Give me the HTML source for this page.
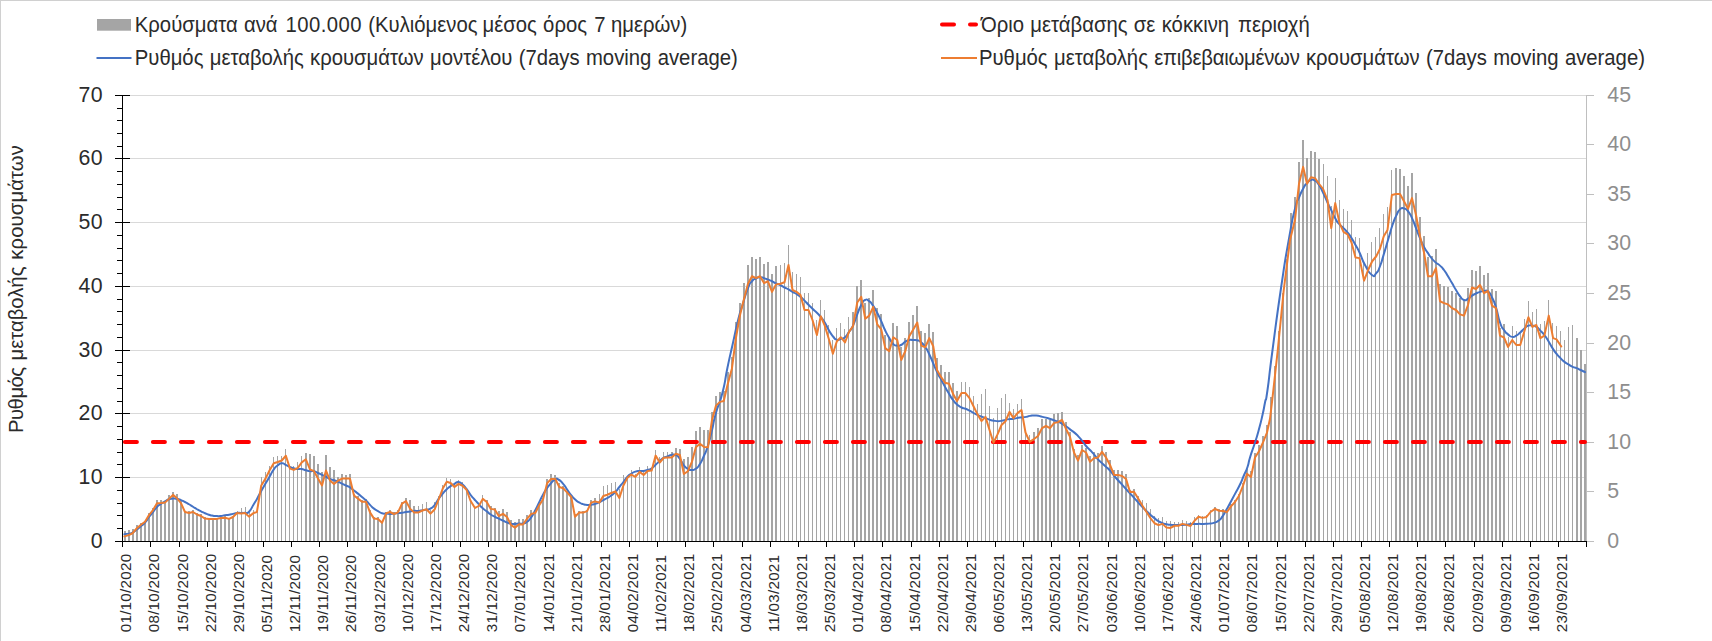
<!DOCTYPE html>
<html lang="el"><head><meta charset="utf-8"><title>Ρυθμός μεταβολής κρουσμάτων</title>
<style>
html,body{margin:0;padding:0;background:#fff;}
body{width:1712px;height:641px;overflow:hidden;}
svg{display:block;}
text{font-family:"Liberation Sans",sans-serif;}
.lg{font-size:20.3px;fill:#2b2b2b;letter-spacing:0px;word-spacing:0.7px;}
.yl{font-size:21.3px;fill:#2b2b2b;text-anchor:end;letter-spacing:0.3px;}
.yr{font-size:21.3px;fill:#8e8e8e;text-anchor:start;letter-spacing:0.3px;}
.xl{font-size:15.2px;fill:#2b2b2b;letter-spacing:0.27px;}
.yt{font-size:20.3px;fill:#2b2b2b;letter-spacing:0px;word-spacing:0.7px;}
</style></head><body>
<svg width="1712" height="641" viewBox="0 0 1712 641">
<rect x="0" y="0" width="1712" height="641" fill="#ffffff"/>
<path d="M0 0.5H1712M0.5 0V641" stroke="#d0d0d0" stroke-width="1" fill="none"/>
<path d="M130 477.5H1586M130 413.5H1586M130 350.5H1586M130 286.5H1586M130 222.5H1586M130 158.5H1586M130 95.5H1586" stroke="#d9d9d9" stroke-width="1" fill="none" shape-rendering="crispEdges"/>
<path d="M124 531H126V541H124ZM128 530H130V541H128ZM132 529H134V541H132ZM136 525H138V541H136ZM140 523H142V541H140ZM144 521H146V541H144ZM148 513H150V541H148ZM152 508H154V541H152ZM156 500H158V541H156ZM160 500H162V541H160ZM164 501H166V541H164ZM168 495H170V541H168ZM172 492H174V541H172ZM176 494H178V541H176ZM180 500H182V541H180ZM184 511H186V541H184ZM188 511H190V541H188ZM192 510H194V541H192ZM196 513H198V541H196ZM200 514H202V541H200ZM204 517H206V541H204ZM208 518H210V541H208ZM212 518H214V541H212ZM216 518H218V541H216ZM220 517H222V541H220ZM224 516H226V541H224ZM228 518H230V541H228ZM232 516H234V541H232ZM237 511H238V541H237ZM241 508H242V541H241ZM245 507H246V541H245ZM249 512H250V541H249ZM253 510H254V541H253ZM257 509H258V541H257ZM261 477H262V541H261ZM265 472H266V541H265ZM269 466H270V541H269ZM273 457H274V541H273ZM277 456H278V541H277ZM281 456H282V541H281ZM285 449H286V541H285ZM289 466H290V541H289ZM293 466H294V541H293ZM297 462H298V541H297ZM301 456H302V541H301ZM305 453H307V541H305ZM309 454H311V541H309ZM313 456H315V541H313ZM317 464H319V541H317ZM321 472H323V541H321ZM325 455H327V541H325ZM329 467H331V541H329ZM333 470H335V541H333ZM337 477H339V541H337ZM341 474H343V541H341ZM345 475H347V541H345ZM349 474H351V541H349ZM353 494H355V541H353ZM357 496H359V541H357ZM361 500H363V541H361ZM365 499H367V541H365ZM369 510H371V541H369ZM373 517H375V541H373ZM377 517H379V541H377ZM381 522H383V541H381ZM385 512H387V541H385ZM389 510H391V541H389ZM393 512H395V541H393ZM397 510H399V541H397ZM401 502H403V541H401ZM405 498H407V541H405ZM409 500H411V541H409ZM413 506H415V541H413ZM418 506H419V541H418ZM422 504H423V541H422ZM426 502H427V541H426ZM430 510H431V541H430ZM434 502H435V541H434ZM438 496H439V541H438ZM442 485H443V541H442ZM446 478H447V541H446ZM450 479H451V541H450ZM454 483H455V541H454ZM458 480H459V541H458ZM462 482H463V541H462ZM466 489H467V541H466ZM470 500H471V541H470ZM474 506H475V541H474ZM478 504H479V541H478ZM482 495H483V541H482ZM486 500H488V541H486ZM490 506H492V541H490ZM494 508H496V541H494ZM498 511H500V541H498ZM502 509H504V541H502ZM506 512H508V541H506ZM510 520H512V541H510ZM514 522H516V541H514ZM518 519H520V541H518ZM522 519H524V541H522ZM526 515H528V541H526ZM530 510H532V541H530ZM534 510H536V541H534ZM538 503H540V541H538ZM542 498H544V541H542ZM546 479H548V541H546ZM550 474H552V541H550ZM554 475H556V541H554ZM558 483H560V541H558ZM562 486H564V541H562ZM566 491H568V541H566ZM570 495H572V541H570ZM574 514H576V541H574ZM578 511H580V541H578ZM582 511H584V541H582ZM586 510H588V541H586ZM590 500H592V541H590ZM594 498H596V541H594ZM599 494H600V541H599ZM603 486H604V541H603ZM607 485H608V541H607ZM611 483H612V541H611ZM615 482H616V541H615ZM619 489H620V541H619ZM623 475H624V541H623ZM627 477H628V541H627ZM631 470H632V541H631ZM635 474H636V541H635ZM639 467H640V541H639ZM643 471H644V541H643ZM647 466H648V541H647ZM651 468H652V541H651ZM655 450H656V541H655ZM659 457H660V541H659ZM663 452H664V541H663ZM667 452H668V541H667ZM671 452H673V541H671ZM675 448H677V541H675ZM679 449H681V541H679ZM683 459H685V541H683ZM687 457H689V541H687ZM691 447H693V541H691ZM695 431H697V541H695ZM699 427H701V541H699ZM703 430H705V541H703ZM707 430H709V541H707ZM711 412H713V541H711ZM715 396H717V541H715ZM719 392H721V541H719ZM723 391H725V541H723ZM727 372H729V541H727ZM731 357H733V541H731ZM735 322H737V541H735ZM739 303H741V541H739ZM743 283H745V541H743ZM747 265H749V541H747ZM751 257H753V541H751ZM755 259H757V541H755ZM759 257H761V541H759ZM763 264H765V541H763ZM767 262H769V541H767ZM771 274H773V541H771ZM775 266H777V541H775ZM780 265H781V541H780ZM784 263H785V541H784ZM788 245H789V541H788ZM792 272H793V541H792ZM796 274H797V541H796ZM800 277H801V541H800ZM804 293H805V541H804ZM808 293H809V541H808ZM812 303H813V541H812ZM816 320H817V541H816ZM820 300H821V541H820ZM824 310H825V541H824ZM828 325H829V541H828ZM832 340H833V541H832ZM836 328H837V541H836ZM840 323H841V541H840ZM844 329H845V541H844ZM848 317H849V541H848ZM852 312H854V541H852ZM856 286H858V541H856ZM860 280H862V541H860ZM864 303H866V541H864ZM868 298H870V541H868ZM872 290H874V541H872ZM876 308H878V541H876ZM880 314H882V541H880ZM884 335H886V541H884ZM888 338H890V541H888ZM892 323H894V541H892ZM896 326H898V541H896ZM900 347H902V541H900ZM904 338H906V541H904ZM908 322H910V541H908ZM912 315H914V541H912ZM916 306H918V541H916ZM920 331H922V541H920ZM924 333H926V541H924ZM928 324H930V541H928ZM932 332H934V541H932ZM936 358H938V541H936ZM940 365H942V541H940ZM944 372H946V541H944ZM948 372H950V541H948ZM952 383H954V541H952ZM956 391H958V541H956ZM961 382H962V541H961ZM965 382H966V541H965ZM969 387H970V541H969ZM973 396H974V541H973ZM977 404H978V541H977ZM981 394H982V541H981ZM985 389H986V541H985ZM989 406H990V541H989ZM993 418H994V541H993ZM997 408H998V541H997ZM1001 398H1002V541H1001ZM1005 394H1006V541H1005ZM1009 403H1010V541H1009ZM1013 409H1014V541H1013ZM1017 404H1018V541H1017ZM1021 399H1022V541H1021ZM1025 434H1026V541H1025ZM1029 435H1030V541H1029ZM1033 432H1035V541H1033ZM1037 428H1039V541H1037ZM1041 419H1043V541H1041ZM1045 419H1047V541H1045ZM1049 420H1051V541H1049ZM1053 414H1055V541H1053ZM1057 413H1059V541H1057ZM1061 412H1063V541H1061ZM1065 422H1067V541H1065ZM1069 432H1071V541H1069ZM1073 449H1075V541H1073ZM1077 455H1079V541H1077ZM1081 445H1083V541H1081ZM1085 448H1087V541H1085ZM1089 456H1091V541H1089ZM1093 452H1095V541H1093ZM1097 453H1099V541H1097ZM1101 446H1103V541H1101ZM1105 452H1107V541H1105ZM1109 460H1111V541H1109ZM1113 470H1115V541H1113ZM1117 470H1119V541H1117ZM1121 471H1123V541H1121ZM1125 474H1127V541H1125ZM1129 490H1131V541H1129ZM1133 489H1135V541H1133ZM1137 496H1139V541H1137ZM1142 500H1143V541H1142ZM1146 503H1147V541H1146ZM1150 509H1151V541H1150ZM1154 516H1155V541H1154ZM1158 518H1159V541H1158ZM1162 517H1163V541H1162ZM1166 521H1167V541H1166ZM1170 521H1171V541H1170ZM1174 522H1175V541H1174ZM1178 522H1179V541H1178ZM1182 520H1183V541H1182ZM1186 521H1187V541H1186ZM1190 522H1191V541H1190ZM1194 517H1195V541H1194ZM1198 515H1199V541H1198ZM1202 516H1203V541H1202ZM1206 515H1207V541H1206ZM1210 510H1211V541H1210ZM1214 507H1216V541H1214ZM1218 509H1220V541H1218ZM1222 509H1224V541H1222ZM1226 510H1228V541H1226ZM1230 504H1232V541H1230ZM1234 500H1236V541H1234ZM1238 494H1240V541H1238ZM1242 483H1244V541H1242ZM1246 469H1248V541H1246ZM1250 471H1252V541H1250ZM1254 453H1256V541H1254ZM1258 445H1260V541H1258ZM1262 436H1264V541H1262ZM1266 425H1268V541H1266ZM1270 397H1272V541H1270ZM1274 366H1276V541H1274ZM1278 331H1280V541H1278ZM1282 293H1284V541H1282ZM1286 259H1288V541H1286ZM1290 213H1292V541H1290ZM1294 197H1296V541H1294ZM1298 162H1300V541H1298ZM1302 140H1304V541H1302ZM1306 158H1308V541H1306ZM1310 151H1312V541H1310ZM1314 152H1316V541H1314ZM1318 159H1320V541H1318ZM1323 164H1324V541H1323ZM1327 176H1328V541H1327ZM1331 206H1332V541H1331ZM1335 178H1336V541H1335ZM1339 200H1340V541H1339ZM1343 209H1344V541H1343ZM1347 211H1348V541H1347ZM1351 220H1352V541H1351ZM1355 237H1356V541H1355ZM1359 238H1360V541H1359ZM1363 262H1364V541H1363ZM1367 253H1368V541H1367ZM1371 242H1372V541H1371ZM1375 237H1376V541H1375ZM1379 228H1380V541H1379ZM1383 214H1384V541H1383ZM1387 207H1388V541H1387ZM1391 170H1392V541H1391ZM1395 168H1397V541H1395ZM1399 169H1401V541H1399ZM1403 176H1405V541H1403ZM1407 186H1409V541H1407ZM1411 173H1413V541H1411ZM1415 193H1417V541H1415ZM1419 217H1421V541H1419ZM1423 236H1425V541H1423ZM1427 257H1429V541H1427ZM1431 256H1433V541H1431ZM1435 249H1437V541H1435ZM1439 284H1441V541H1439ZM1443 286H1445V541H1443ZM1447 287H1449V541H1447ZM1451 291H1453V541H1451ZM1455 293H1457V541H1455ZM1459 298H1461V541H1459ZM1463 300H1465V541H1463ZM1467 288H1469V541H1467ZM1471 270H1473V541H1471ZM1475 271H1477V541H1475ZM1479 266H1481V541H1479ZM1483 275H1485V541H1483ZM1487 273H1489V541H1487ZM1491 289H1493V541H1491ZM1495 291H1497V541H1495ZM1499 328H1501V541H1499ZM1503 324H1505V541H1503ZM1508 337H1509V541H1508ZM1512 326H1513V541H1512ZM1516 331H1517V541H1516ZM1520 332H1521V541H1520ZM1524 319H1525V541H1524ZM1528 301H1529V541H1528ZM1532 312H1533V541H1532ZM1536 309H1537V541H1536ZM1540 324H1541V541H1540ZM1544 321H1545V541H1544ZM1548 300H1549V541H1548ZM1552 323H1553V541H1552ZM1556 326H1557V541H1556ZM1560 331H1561V541H1560ZM1564 340H1565V541H1564ZM1568 327H1569V541H1568ZM1572 325H1573V541H1572ZM1576 338H1578V541H1576ZM1580 350H1582V541H1580ZM1584 364H1586V541H1584Z" fill="#a5a5a5" stroke="none" shape-rendering="crispEdges"/>
<path d="M1586.5 95V542M1587 541.5H1594M1587 491.5H1594M1587 442.5H1594M1587 392.5H1594M1587 343.5H1594M1587 293.5H1594M1587 243.5H1594M1587 194.5H1594M1587 144.5H1594M1587 95.5H1594" stroke="#bfbfbf" stroke-width="1" fill="none" shape-rendering="crispEdges"/>
<path d="M124.9 442H1585" stroke="#ff0000" stroke-width="4" stroke-linecap="round" stroke-dasharray="12 16" fill="none"/>
<path d="M124.38 534.25C125.83 534.04 126.04 534.17 128.75 533.62C131.46 533.08 129.79 534 132.5 532.62C135.21 531.25 133.96 531.79 136.88 529.5C139.79 527.21 138.54 528.04 141.25 525.75C143.96 523.46 142.42 525.54 145 522.62C147.58 519.71 146.33 520.54 149 517C151.67 513.46 150.33 515.33 153 512C155.67 508.67 154.33 509.71 157 507C159.67 504.29 158.33 505.75 161 503.88C163.67 502 162.33 502.92 165 501.38C167.67 499.83 166.33 500.17 169 499.25C171.67 498.33 170.33 498.75 173 498.62C175.67 498.5 174.33 498.38 177 498.88C179.67 499.38 178.33 499.08 181 500.12C183.67 501.17 182.33 500.62 185 502C187.67 503.38 186.33 502.67 189 504.25C191.67 505.83 190.33 505.08 193 506.75C195.67 508.42 194.33 507.71 197 509.25C199.67 510.79 198.33 510.04 201 511.38C203.67 512.71 202.33 512.12 205 513.25C207.67 514.38 206.33 513.92 209 514.75C211.67 515.58 210.33 515.29 213 515.75C215.67 516.21 214.33 516.04 217 516.12C219.67 516.21 218.33 516.33 221 516C223.67 515.67 222.33 515.54 225 515.12C227.67 514.71 226.33 515.17 229 514.75C231.67 514.33 230.33 514.46 233 513.88C235.67 513.29 234.33 513.33 237 513C239.67 512.67 238.33 512.96 241 512.88C243.67 512.79 242.42 513.04 245 512.75C247.58 512.46 245.83 514.83 248.75 512C251.67 509.17 250.83 508.92 253.75 504.25C256.67 499.58 254.92 502.58 257.5 498C260.08 493.42 258.83 495.29 261.5 490.5C264.17 485.71 262.83 488.21 265.5 483.62C268.17 479.04 266.83 481.33 269.5 476.75C272.17 472.17 270.83 473.62 273.5 469.88C276.17 466.12 274.71 467.71 277.5 465.5C280.29 463.29 279.17 463.46 281.88 463.25C284.58 463.04 282.92 463.62 285.62 464.88C288.33 466.12 287.29 465.88 290 467C292.71 468.12 291.25 467.58 293.75 468.25C296.25 468.92 294.92 468.75 297.5 469C300.08 469.25 298.71 468.58 301.5 469C304.29 469.42 303.04 469.54 305.88 470.25C308.71 470.96 307.29 470.83 310 471.12C312.71 471.42 311.33 470.5 314 471.12C316.67 471.75 315.33 471.75 318 473C320.67 474.25 319.33 473.62 322 474.88C324.67 476.12 323.33 475.38 326 476.75C328.67 478.12 327.33 477.83 330 479C332.67 480.17 331.33 479.33 334 480.25C336.67 481.17 335.33 480.62 338 481.75C340.67 482.88 339.33 482.38 342 483.62C344.67 484.88 343.33 484.25 346 485.5C348.67 486.75 347.33 485.71 350 487.38C352.67 489.04 351.33 488.42 354 490.5C356.67 492.58 355.33 491.46 358 493.62C360.67 495.79 359.33 494.71 362 497C364.67 499.29 363.33 497.88 366 500.5C368.67 503.12 367.33 502.17 370 504.88C372.67 507.58 371.33 506.54 374 508.62C376.67 510.71 375.33 509.58 378 511.12C380.67 512.67 379.33 512.42 382 513.25C384.67 514.08 383.33 513.42 386 513.62C388.67 513.83 387.33 513.88 390 513.88C392.67 513.88 391.33 513.92 394 513.62C396.67 513.33 395.33 513.29 398 513C400.67 512.71 399.33 513.08 402 512.75C404.67 512.42 403.33 512.42 406 512C408.67 511.58 407.33 511.88 410 511.5C412.67 511.12 411.17 511.08 414 510.88C416.83 510.67 415.67 511.12 418.5 510.88C421.33 510.62 419.83 510.54 422.5 510.12C425.17 509.71 423.83 510.12 426.5 509.62C429.17 509.12 427.75 510.21 430.5 508.62C433.25 507.04 432 508.21 434.75 504.88C437.5 501.54 436.08 502.38 438.75 498.62C441.42 494.88 440.08 496.75 442.75 493.62C445.42 490.5 444.12 491.75 446.75 489.25C449.38 486.75 448.04 487.92 450.62 486.12C453.21 484.33 451.88 485.25 454.5 483.88C457.12 482.5 455.83 481.79 458.5 482C461.17 482.21 459.83 482.21 462.5 484.5C465.17 486.79 463.83 485.46 466.5 488.88C469.17 492.29 467.83 491.21 470.5 494.75C473.17 498.29 471.83 496.46 474.5 499.5C477.17 502.54 475.83 501.04 478.5 503.88C481.17 506.71 479.75 505.5 482.5 508C485.25 510.5 484 509.21 486.75 511.38C489.5 513.54 488.08 512.71 490.75 514.5C493.42 516.29 492.08 515.38 494.75 516.75C497.42 518.12 496.08 517.38 498.75 518.62C501.42 519.88 500.08 519.25 502.75 520.5C505.42 521.75 504.04 521.33 506.75 522.38C509.46 523.42 508.17 523.12 510.88 523.62C513.58 524.12 512.21 523.88 514.88 523.88C517.54 523.88 516.21 523.75 518.88 523.62C521.54 523.5 520.17 524.12 522.88 523.5C525.58 522.88 524.29 523.71 527 521.75C529.71 519.79 528.33 521.29 531 517.62C533.67 513.96 532.33 515.75 535 510.75C537.67 505.75 536.33 507.96 539 502.62C541.67 497.29 540.33 499.54 543 494.75C545.67 489.96 544.33 492.08 547 488.25C549.67 484.42 548.33 486.17 551 483.25C553.67 480.33 552.54 480.75 555 479.5C557.46 478.25 555.67 478.04 558.38 479.5C561.08 480.96 560.21 480.54 563.12 483.88C566.04 487.21 564.46 485.75 567.12 489.5C569.79 493.25 568.46 491.79 571.12 495.12C573.79 498.46 572.46 497.08 575.12 499.5C577.79 501.92 576.46 500.83 579.12 502.38C581.79 503.92 580.46 503.29 583.12 504.12C585.79 504.96 584.46 504.67 587.12 504.88C589.79 505.08 588.46 505.08 591.12 504.75C593.79 504.42 592.42 504.71 595.12 503.88C597.83 503.04 596.54 503.5 599.25 502.25C601.96 501 600.58 501.54 603.25 500.12C605.92 498.71 604.58 499.54 607.25 498C609.92 496.46 608.54 497.5 611.25 495.5C613.96 493.5 612.67 494.83 615.38 492C618.08 489.17 616.71 490.33 619.38 487C622.04 483.67 620.75 485.38 623.38 482C626 478.62 624.62 479.62 627.25 476.88C629.88 474.12 628.54 475.5 631.25 473.75C633.96 472 632.67 472.54 635.38 471.62C638.08 470.71 636.71 471.21 639.38 471C642.04 470.79 640.71 471.33 643.38 471C646.04 470.67 644.71 470.83 647.38 470C650.04 469.17 648.71 470.17 651.38 468.5C654.04 466.83 652.67 467.42 655.38 465C658.08 462.58 656.79 463.67 659.5 461.25C662.21 458.83 660.83 459.33 663.5 457.75C666.17 456.17 664.83 457.42 667.5 456.5C670.17 455.58 668.79 455.5 671.5 455C674.21 454.5 672.92 453.83 675.62 455C678.33 456.17 676.96 455.17 679.62 458.5C682.29 461.83 680.96 461.58 683.62 465C686.29 468.42 684.96 467.08 687.62 468.75C690.29 470.42 688.96 470 691.62 470C694.29 470 692.92 470.62 695.62 468.75C698.33 466.88 697.04 468.54 699.75 464.38C702.46 460.21 701.08 462.29 703.75 456.25C706.42 450.21 705.08 454.58 707.75 446.25C710.42 437.92 709.08 442.08 711.75 431.25C714.42 420.42 712.17 426.67 715.75 413.75C719.33 400.83 718.58 407.92 722.5 392.5C726.42 377.08 724.17 383.33 727.5 367.5C730.83 351.67 728.96 360.83 732.5 345C736.04 329.17 734.79 333.33 738.12 320C741.46 306.67 739.21 315.62 742.5 305C745.79 294.38 744.83 296.04 748 288.12C751.17 280.21 749.33 284.46 752 281.25C754.67 278.04 753.33 279.83 756 278.5C758.67 277.17 757.33 277.38 760 277.25C762.67 277.12 761.33 277.29 764 278.12C766.67 278.96 765.33 278.71 768 279.75C770.67 280.79 769.33 280 772 281.25C774.67 282.5 773.17 282.17 776 283.5C778.83 284.83 777.67 283.92 780.5 285.25C783.33 286.58 781.83 286.12 784.5 287.5C787.17 288.88 785.83 287.92 788.5 289.38C791.17 290.83 789.83 290.33 792.5 291.88C795.17 293.42 793.83 292.33 796.5 294C799.17 295.67 797.83 294.67 800.5 296.88C803.17 299.08 801.83 298 804.5 300.62C807.17 303.25 805.83 302.04 808.5 304.75C811.17 307.46 809.71 306.08 812.5 308.75C815.29 311.42 814.17 310.04 816.88 312.75C819.58 315.46 818 313.62 820.62 316.88C823.25 320.12 822.04 318.12 824.75 322.5C827.46 326.88 826.04 325.42 828.75 330C831.46 334.58 830.17 333 832.88 336.25C835.58 339.5 834.21 338.92 836.88 339.75C839.54 340.58 838.17 339.58 840.88 338.75C843.58 337.92 842.29 339.54 845 337.25C847.71 334.96 846.33 335.75 849 331.88C851.67 328 850.25 331.46 853 325.62C855.75 319.79 854.5 321.25 857.25 314.38C860 307.5 858.67 309.79 861.25 305C863.83 300.21 862.42 301.33 865 300C867.58 298.67 866.33 299.12 869 301C871.67 302.88 870.33 301.79 873 305.62C875.67 309.46 874.33 307.5 877 312.5C879.67 317.5 878.33 314.79 881 320.62C883.67 326.46 882.33 324.38 885 330C887.67 335.62 886.33 332.92 889 337.5C891.67 342.08 890.33 341.04 893 343.75C895.67 346.46 894.33 345.21 897 345.62C899.67 346.04 898.33 346.25 901 345C903.67 343.75 902.33 343.54 905 341.88C907.67 340.21 906.33 340.62 909 340C911.67 339.38 910.33 339.92 913 340C915.67 340.08 914.33 339.5 917 340.25C919.67 341 918.33 340.04 921 342.25C923.67 344.46 922.33 343.04 925 346.88C927.67 350.71 925 345.42 929 353.75C933 362.08 933 363.33 937 371.88C941 380.42 938.33 374.38 941 379.38C943.67 384.38 942.33 382.08 945 386.88C947.67 391.67 946.33 389.38 949 393.75C951.67 398.12 950.33 396.46 953 400C955.67 403.54 954.17 401.88 957 404.38C959.83 406.88 958.67 406.04 961.5 407.5C964.33 408.96 962.83 407.71 965.5 408.75C968.17 409.79 965.92 408.75 969.5 410.62C973.08 412.5 971.92 412.29 976.25 414.38C980.58 416.46 978.33 415.21 982.5 416.88C986.67 418.54 984.58 418.04 988.75 419.38C992.92 420.71 990.83 420.38 995 420.88C999.17 421.38 997.08 421.38 1001.25 420.88C1005.42 420.38 1003.33 420.08 1007.5 419.38C1011.67 418.67 1009.58 419.38 1013.75 418.75C1017.92 418.12 1015.83 418.12 1020 417.5C1024.17 416.88 1022.92 417.42 1026.25 416.88C1029.58 416.33 1026.67 416.29 1030 415.88C1033.33 415.46 1032.08 415.29 1036.25 415.62C1040.42 415.96 1038.33 415.92 1042.5 416.88C1046.67 417.83 1044.58 417.25 1048.75 418.5C1052.92 419.75 1051.25 419.29 1055 420.62C1058.75 421.96 1056.67 420.83 1060 422.5C1063.33 424.17 1061.67 423.33 1065 425.62C1068.33 427.92 1066.67 426.88 1070 429.38C1073.33 431.88 1072.08 430.62 1075 433.12C1077.92 435.62 1076.25 434.17 1078.75 436.88C1081.25 439.58 1080 438.12 1082.5 441.25C1085 444.38 1083.75 443.33 1086.25 446.25C1088.75 449.17 1087.42 447.29 1090 450C1092.58 452.71 1091.33 451.25 1094 454.38C1096.67 457.5 1095.33 456.46 1098 459.38C1100.67 462.29 1099.33 460.62 1102 463.12C1104.67 465.62 1103.33 464.38 1106 466.88C1108.67 469.38 1106.58 466.83 1110 470.62C1113.42 474.42 1112.08 473.42 1116.25 478.25C1120.42 483.08 1118.33 480.54 1122.5 485.12C1126.67 489.71 1124.58 487.42 1128.75 492C1132.92 496.58 1130.83 494.29 1135 498.88C1139.17 503.46 1137.08 501.38 1141.25 505.75C1145.42 510.12 1143.33 508.04 1147.5 512C1151.67 515.96 1149.58 514.29 1153.75 517.62C1157.92 520.96 1155.83 519.83 1160 522C1164.17 524.17 1162.08 523.17 1166.25 524.12C1170.42 525.08 1168.33 524.62 1172.5 524.88C1176.67 525.12 1174.58 524.92 1178.75 524.88C1182.92 524.83 1180.83 525 1185 524.75C1189.17 524.5 1187.08 524.42 1191.25 524.12C1195.42 523.83 1193.33 523.96 1197.5 523.88C1201.67 523.79 1200 523.96 1203.75 523.88C1207.5 523.79 1205.42 523.96 1208.75 523.62C1212.08 523.29 1210.42 523.92 1213.75 522.88C1217.08 521.83 1215.83 522.67 1218.75 520.5C1221.67 518.33 1220 519.83 1222.5 516.38C1225 512.92 1223.75 514.5 1226.25 510.12C1228.75 505.75 1227.08 508.67 1230 503.25C1232.92 497.83 1231.67 500.12 1235 493.88C1238.33 487.62 1237.08 490.54 1240 484.5C1242.92 478.46 1241.25 481.58 1243.75 475.75C1246.25 469.92 1245.42 473.08 1247.5 467C1249.58 460.92 1247.5 465.67 1250 457.5C1252.5 449.33 1252.08 451.67 1255 442.5C1257.92 433.33 1256.25 439.17 1258.75 430C1261.25 420.83 1260.42 424.17 1262.5 415C1264.58 405.83 1263.33 410.83 1265 402.5C1266.67 394.17 1265 407.42 1267.5 390C1270 372.58 1267.92 384.75 1272.5 350.25C1277.08 315.75 1275.83 323.25 1281.25 286.5C1286.67 249.75 1284.17 265.92 1288.75 240C1293.33 214.08 1291.58 222.92 1295 208.75C1298.42 194.58 1296.08 204.58 1299 197.5C1301.92 190.42 1301.08 192.29 1303.75 187.5C1306.42 182.71 1304.58 185.62 1307 183.12C1309.42 180.62 1308.33 180.83 1311 180C1313.67 179.17 1312.33 178.96 1315 180.62C1317.67 182.29 1316.33 181.04 1319 185C1321.67 188.96 1320.17 186.67 1323 192.5C1325.83 198.33 1325.17 197.5 1327.5 202.5C1329.83 207.5 1327.33 202.08 1330 207.5C1332.67 212.92 1332.33 213.12 1335.5 218.75C1338.67 224.38 1336.83 221.25 1339.5 224.38C1342.17 227.5 1340.83 225.42 1343.5 228.12C1346.17 230.83 1344.83 229.17 1347.5 232.5C1350.17 235.83 1348.83 233.96 1351.5 238.12C1354.17 242.29 1352.83 240.21 1355.5 245C1358.17 249.79 1356.33 245.83 1359.5 252.5C1362.67 259.17 1360.88 257.5 1365 265C1369.12 272.5 1368.12 272.29 1371.88 275C1375.62 277.71 1373.54 276.04 1376.25 273.12C1378.96 270.21 1377.5 272.5 1380 266.25C1382.5 260 1380.83 263.96 1383.75 254.38C1386.67 244.79 1385.83 247.29 1388.75 237.5C1391.67 227.71 1390 232.29 1392.5 225C1395 217.71 1393.75 220.83 1396.25 215.62C1398.75 210.42 1397.42 211.75 1400 209.38C1402.58 207 1401.33 207.88 1404 208.5C1406.67 209.12 1405.33 208.04 1408 211.25C1410.67 214.46 1409.33 212.5 1412 218.12C1414.67 223.75 1413.33 221.46 1416 228.12C1418.67 234.79 1417.33 231.88 1420 238.12C1422.67 244.38 1421.33 241.88 1424 246.88C1426.67 251.88 1426 250 1428 253.12C1430 256.25 1427.67 253.33 1430 256.25C1432.33 259.17 1431.67 258.75 1435 261.88C1438.33 265 1437 262.92 1440 265.62C1443 268.33 1441.33 266.46 1444 270C1446.67 273.54 1445.33 271.88 1448 276.25C1450.67 280.62 1449.33 278.54 1452 283.12C1454.67 287.71 1453.33 285.62 1456 290C1458.67 294.38 1457.33 292.92 1460 296.25C1462.67 299.58 1461.33 299.17 1464 300C1466.67 300.83 1465.33 300.21 1468 298.75C1470.67 297.29 1469.33 297.38 1472 295.62C1474.67 293.88 1473.33 294.75 1476 293.5C1478.67 292.25 1477.33 292.71 1480 291.88C1482.67 291.04 1481.33 291.12 1484 291C1486.67 290.88 1485.33 289.33 1488 291.5C1490.67 293.67 1489.33 292.17 1492 297.5C1494.67 302.83 1493.33 299.17 1496 307.5C1498.67 315.83 1497.33 315 1500 322.5C1502.67 330 1501.33 326.04 1504 330C1506.67 333.96 1505.25 332.08 1508 334.38C1510.75 336.67 1509.5 336.46 1512.25 336.88C1515 337.29 1513.58 337.08 1516.25 335.62C1518.92 334.17 1517.54 334.88 1520.25 332.5C1522.96 330.12 1521.67 330.79 1524.38 328.5C1527.08 326.21 1525.71 326.58 1528.38 325.62C1531.04 324.67 1529.71 325.21 1532.38 325.62C1535.04 326.04 1533.71 325.21 1536.38 326.88C1539.04 328.54 1537.71 327.92 1540.38 330.62C1543.04 333.33 1541.67 331.46 1544.38 335C1547.08 338.54 1545.79 336.88 1548.5 341.25C1551.21 345.62 1549.83 343.96 1552.5 348.12C1555.17 352.29 1553.83 350.42 1556.5 353.75C1559.17 357.08 1557.83 355.42 1560.5 358.12C1563.17 360.83 1561.83 359.79 1564.5 361.88C1567.17 363.96 1565.79 362.71 1568.5 364.38C1571.21 366.04 1569.92 365.62 1572.62 366.88C1575.33 368.12 1573.96 367.08 1576.62 368.12C1579.29 369.17 1577.83 368.67 1580.62 370C1583.42 371.33 1583.54 371.42 1585 372.12" stroke="#4472c4" stroke-width="2" stroke-linejoin="round" stroke-linecap="round" fill="none"/>
<path d="M124.38 536.38 128.75 535.12 132.5 533.25 136.88 528.25 141.25 524.5 145 521.75 149 515.12 153 510.12 157 503.25 161 503 165 502.62 169 498.88 173 494.88 177 498.25 181 503.25 185 512 189 513 193 512 197 514.5 201 516 205 518.62 209 518.88 213 518.88 217 518.88 221 518 225 517.75 229 518.88 233 517 237 513 241 513.5 245 513 249 516.62 253.5 513 256.88 512.12 261.25 485.5 265.5 478.62 269.5 470.5 273.75 463.25 277.75 462 281.75 460.5 285.88 455.75 290 468.62 293.75 469.88 297.75 468 301.75 462.38 305.88 459.25 310 469.5 314 471.12 318 478.62 322 485.5 326 470.5 330 480.5 334 484 338 480.75 342 478.62 346 478.62 350 478.62 354 495.5 358 498.62 362 501.75 366 501.75 370 512.38 374 518.62 378 519 382 522.75 386.25 513.25 390 512 394 514 398 512.38 402 503.62 406 501.12 410 508.62 414 512.38 418.5 512.38 422.5 510.5 426.5 509.25 430.5 513.62 434.75 509.25 438.75 499.25 442.75 488.62 446.75 481.75 450.62 483 454.5 487 458.5 483.88 462.5 485.75 466.5 489.75 470.5 500.75 475 508 479 505.75 482.75 498.88 486.75 502 490.75 508.88 494.75 509.5 498.75 516 503 513.88 507 517 511.12 525.12 515 527.62 519 524.25 523 524.5 527 518.88 531.25 513.88 535.25 513 539.25 505.12 543 499.5 547.12 483.25 551.25 478.88 555.25 478.88 559.25 487 563.25 488.25 567.25 492.62 571.25 497 575 516.75 579.12 512.62 583.12 512.62 587.12 511.12 591.12 502.62 595.12 501.38 599.25 502.62 603.25 496 607.25 494.75 611.25 493 615.38 491.38 619.38 498 623.38 485.5 627.25 478.12 631.25 474.62 635.38 476.88 639.62 471.88 643.62 475 647.62 471 651.62 470.62 655.62 455.62 659.75 462.5 663.75 457.75 667.75 457.5 671.75 457.5 675.88 453.75 679.88 455 683.88 474 687.88 471.25 691.88 461.88 695.88 447.25 700 443.75 704 446.88 708 447.25 712 420 716 405.62 720 401.88 723.75 401 727.5 385 731.88 368.75 736 337.5 740 315 743.75 300 748 283.75 752 276.25 756 278.12 760 276.25 764 283.12 768 281.25 772 291.88 776 284.38 780.5 283.75 784.5 282.25 788.5 265 792.5 290 796.5 291.88 800.5 295 804.5 310 808.5 310 812.5 320 816.88 335 820.75 316.25 824.75 325.62 828.75 338.75 832.88 353.75 836.88 341.25 840.88 337.25 845 342.5 849 331.88 853 326.25 857.25 302.5 861.25 296.88 865.25 318.75 869.25 315.62 873.25 306.88 877.25 324.38 881.25 329.38 885.25 348.12 889.25 351.25 893.25 337.25 897.25 340 901.25 360 905.25 351.25 909.25 336.25 913.25 329.38 917.25 322.5 921.25 345.62 925.25 347.25 929.25 338.12 933.25 346.25 937 370 941 376.88 945 382.75 949 383.75 953 393.75 957 401 961.5 393.12 965.5 393.12 969.5 398.12 973.5 406.25 977.5 414.38 981.5 421 985.5 416.88 989.5 430 993.5 442.75 997.5 434.38 1001.5 425 1005.5 421.25 1009.5 411.88 1013.5 418.12 1017.5 413.12 1021.5 410 1025.5 432.5 1029.75 441.88 1034 439 1038 436 1042 428.12 1046 426 1050 428.12 1054 423.12 1058 422.12 1062 420 1066 428.75 1070 436.88 1074 452.5 1078 460.62 1082 450 1086 452.5 1090 461.88 1094 458.12 1098 457.5 1102 451.88 1106 457.5 1110 465 1114 474.88 1118 474.88 1122 476 1126 478.88 1130 492 1134 491.75 1138 498.25 1142.5 505.75 1146.5 512 1150.5 518.25 1154.5 523.25 1158.5 525.12 1162.5 523.88 1166.5 527.62 1170.5 527.88 1174.5 525.75 1178.5 525.75 1182.5 523.88 1186.5 524.88 1190.5 526 1194.5 520.75 1198.5 516.75 1202.5 517.88 1206.5 517 1210.5 512 1215 508.88 1219 510.75 1223 511 1227 512 1231 506.38 1235 502 1239 495.75 1243 485.75 1247 473.88 1251 477 1255 457.5 1259 451.25 1263 442.5 1267 432.5 1270 418.75 1272.25 400 1277.75 350.25 1283.75 290 1290 240 1295 220 1299 183.75 1303.12 166.88 1307 183.75 1311 177.25 1315 178.12 1319 183.75 1323 188.75 1327.5 200 1331.25 228.12 1335.25 203.12 1339.5 223.12 1343.5 231.88 1347.5 234.38 1351.5 242.5 1355.5 257.5 1359.5 258.12 1364.06 280.62 1368.12 270 1372.19 261.25 1376.25 256.25 1380 248.75 1383.75 236.25 1387.5 230 1391.88 195 1396 194 1400 194 1404 201.25 1408 208.75 1412 198.12 1416 215 1420 236.25 1424 252.5 1428 276.25 1432 276.25 1436 268.12 1440 301.25 1444 303.12 1448 304.38 1452 308.12 1456 310 1460 314.38 1464 315.62 1468 305 1472 287.5 1476 289 1480 285 1484 293.12 1488 291 1492 305.62 1496 308.12 1500 335.62 1504 337.5 1508 346.88 1512.25 340 1516.25 345 1520.25 345 1524.38 331.25 1528.38 317.25 1532.38 326.88 1536.38 325 1540.38 338.12 1544.38 335.62 1548.75 315.62 1553.12 338.12 1556.5 339.38 1561.25 346.5" stroke="#ed7d31" stroke-width="2" stroke-linejoin="round" stroke-linecap="round" fill="none"/>
<path d="M122.5 95V542M115 541.5H130M117 528.5H122M117 515.5H122M117 503.5H122M117 490.5H122M115 477.5H130M117 464.5H122M117 452.5H122M117 439.5H122M117 426.5H122M115 413.5H130M117 401.5H122M117 388.5H122M117 375.5H122M117 362.5H122M115 350.5H130M117 337.5H122M117 324.5H122M117 311.5H122M117 299.5H122M115 286.5H130M117 273.5H122M117 260.5H122M117 248.5H122M117 235.5H122M115 222.5H130M117 209.5H122M117 197.5H122M117 184.5H122M117 171.5H122M115 158.5H130M117 146.5H122M117 133.5H122M117 120.5H122M117 108.5H122M115 95.5H130M115 541.5H1587M122.5 542V547M150.5 542V547M179.5 542V547M207.5 542V547M235.5 542V547M263.5 542V547M291.5 542V547M319.5 542V547M347.5 542V547M376.5 542V547M404.5 542V547M432.5 542V547M460.5 542V547M488.5 542V547M516.5 542V547M545.5 542V547M573.5 542V547M601.5 542V547M629.5 542V547M657.5 542V547M685.5 542V547M713.5 542V547M742.5 542V547M770.5 542V547M798.5 542V547M826.5 542V547M854.5 542V547M882.5 542V547M911.5 542V547M939.5 542V547M967.5 542V547M995.5 542V547M1023.5 542V547M1051.5 542V547M1079.5 542V547M1108.5 542V547M1136.5 542V547M1164.5 542V547M1192.5 542V547M1220.5 542V547M1248.5 542V547M1277.5 542V547M1305.5 542V547M1333.5 542V547M1361.5 542V547M1389.5 542V547M1417.5 542V547M1445.5 542V547M1474.5 542V547M1502.5 542V547M1530.5 542V547M1558.5 542V547M1586.5 542V547" stroke="#000" stroke-width="1" fill="none" shape-rendering="crispEdges"/>
<text class="yl" x="102.8" y="548.3">0</text>
<text class="yl" x="102.8" y="484.3">10</text>
<text class="yl" x="102.8" y="420.3">20</text>
<text class="yl" x="102.8" y="357.3">30</text>
<text class="yl" x="102.8" y="293.3">40</text>
<text class="yl" x="102.8" y="229.3">50</text>
<text class="yl" x="102.8" y="165.3">60</text>
<text class="yl" x="102.8" y="102.3">70</text>
<text class="yr" x="1607.2" y="548.3">0</text>
<text class="yr" x="1607.2" y="498.3">5</text>
<text class="yr" x="1607.2" y="449.3">10</text>
<text class="yr" x="1607.2" y="399.3">15</text>
<text class="yr" x="1607.2" y="350.3">20</text>
<text class="yr" x="1607.2" y="300.3">25</text>
<text class="yr" x="1607.2" y="250.3">30</text>
<text class="yr" x="1607.2" y="201.3">35</text>
<text class="yr" x="1607.2" y="151.3">40</text>
<text class="yr" x="1607.2" y="102.3">45</text>
<text class="xl" transform="translate(130.8 632.3) rotate(-90)">01/10/2020</text>
<text class="xl" transform="translate(158.8 632.3) rotate(-90)">08/10/2020</text>
<text class="xl" transform="translate(187.8 632.3) rotate(-90)">15/10/2020</text>
<text class="xl" transform="translate(215.8 632.3) rotate(-90)">22/10/2020</text>
<text class="xl" transform="translate(243.8 632.3) rotate(-90)">29/10/2020</text>
<text class="xl" transform="translate(271.8 632.3) rotate(-90)">05/11/2020</text>
<text class="xl" transform="translate(299.8 632.3) rotate(-90)">12/11/2020</text>
<text class="xl" transform="translate(327.8 632.3) rotate(-90)">19/11/2020</text>
<text class="xl" transform="translate(355.8 632.3) rotate(-90)">26/11/2020</text>
<text class="xl" transform="translate(384.8 632.3) rotate(-90)">03/12/2020</text>
<text class="xl" transform="translate(412.8 632.3) rotate(-90)">10/12/2020</text>
<text class="xl" transform="translate(440.8 632.3) rotate(-90)">17/12/2020</text>
<text class="xl" transform="translate(468.8 632.3) rotate(-90)">24/12/2020</text>
<text class="xl" transform="translate(496.8 632.3) rotate(-90)">31/12/2020</text>
<text class="xl" transform="translate(524.8 632.3) rotate(-90)">07/01/2021</text>
<text class="xl" transform="translate(553.8 632.3) rotate(-90)">14/01/2021</text>
<text class="xl" transform="translate(581.8 632.3) rotate(-90)">21/01/2021</text>
<text class="xl" transform="translate(609.8 632.3) rotate(-90)">28/01/2021</text>
<text class="xl" transform="translate(637.8 632.3) rotate(-90)">04/02/2021</text>
<text class="xl" transform="translate(665.8 632.3) rotate(-90)">11/02/2021</text>
<text class="xl" transform="translate(693.8 632.3) rotate(-90)">18/02/2021</text>
<text class="xl" transform="translate(721.8 632.3) rotate(-90)">25/02/2021</text>
<text class="xl" transform="translate(750.8 632.3) rotate(-90)">04/03/2021</text>
<text class="xl" transform="translate(778.8 632.3) rotate(-90)">11/03/2021</text>
<text class="xl" transform="translate(806.8 632.3) rotate(-90)">18/03/2021</text>
<text class="xl" transform="translate(834.8 632.3) rotate(-90)">25/03/2021</text>
<text class="xl" transform="translate(862.8 632.3) rotate(-90)">01/04/2021</text>
<text class="xl" transform="translate(890.8 632.3) rotate(-90)">08/04/2021</text>
<text class="xl" transform="translate(919.8 632.3) rotate(-90)">15/04/2021</text>
<text class="xl" transform="translate(947.8 632.3) rotate(-90)">22/04/2021</text>
<text class="xl" transform="translate(975.8 632.3) rotate(-90)">29/04/2021</text>
<text class="xl" transform="translate(1003.8 632.3) rotate(-90)">06/05/2021</text>
<text class="xl" transform="translate(1031.8 632.3) rotate(-90)">13/05/2021</text>
<text class="xl" transform="translate(1059.8 632.3) rotate(-90)">20/05/2021</text>
<text class="xl" transform="translate(1087.8 632.3) rotate(-90)">27/05/2021</text>
<text class="xl" transform="translate(1116.8 632.3) rotate(-90)">03/06/2021</text>
<text class="xl" transform="translate(1144.8 632.3) rotate(-90)">10/06/2021</text>
<text class="xl" transform="translate(1172.8 632.3) rotate(-90)">17/06/2021</text>
<text class="xl" transform="translate(1200.8 632.3) rotate(-90)">24/06/2021</text>
<text class="xl" transform="translate(1228.8 632.3) rotate(-90)">01/07/2021</text>
<text class="xl" transform="translate(1256.8 632.3) rotate(-90)">08/07/2021</text>
<text class="xl" transform="translate(1285.8 632.3) rotate(-90)">15/07/2021</text>
<text class="xl" transform="translate(1313.8 632.3) rotate(-90)">22/07/2021</text>
<text class="xl" transform="translate(1341.8 632.3) rotate(-90)">29/07/2021</text>
<text class="xl" transform="translate(1369.8 632.3) rotate(-90)">05/08/2021</text>
<text class="xl" transform="translate(1397.8 632.3) rotate(-90)">12/08/2021</text>
<text class="xl" transform="translate(1425.8 632.3) rotate(-90)">19/08/2021</text>
<text class="xl" transform="translate(1453.8 632.3) rotate(-90)">26/08/2021</text>
<text class="xl" transform="translate(1482.8 632.3) rotate(-90)">02/09/2021</text>
<text class="xl" transform="translate(1510.8 632.3) rotate(-90)">09/09/2021</text>
<text class="xl" transform="translate(1538.8 632.3) rotate(-90)">16/09/2021</text>
<text class="xl" transform="translate(1566.8 632.3) rotate(-90)">23/09/2021</text>
<text class="yt" transform="translate(23.2 433) rotate(-90)"><tspan style="letter-spacing:-0.5px">Ρυθμός</tspan> <tspan dx="0.5">μεταβολής</tspan> <tspan dx="0.6" style="letter-spacing:0.1px">κρουσμάτων</tspan></text>
<rect x="97" y="19" width="34" height="11.7" fill="#a5a5a5"/>
<text class="lg" transform="matrix(1 0 0 1.08 0 -2.584)" x="134.8" y="32.3">Κρούσματα ανά <tspan dx="1.6" style="letter-spacing:0.45px">100.000</tspan> (Κυλιόμενος <tspan dx="-1.4">μέσος</tspan> όρος <tspan dx="1">7</tspan> <tspan dx="-1">ημερών)</tspan></text>
<path d="M96.5 58H131.5" stroke="#4472c4" stroke-width="2" fill="none"/>
<text class="lg" transform="matrix(1 0 0 1.08 0 -5.224)" x="134.8" y="65.3">Ρυθμός μεταβολής κρουσμάτων μοντέλου (7days moving average)</text>
<path d="M942 24.6H976" stroke="#ff0000" stroke-width="4" stroke-linecap="round" stroke-dasharray="12 16" fill="none"/>
<text class="lg" transform="matrix(1 0 0 1.08 0 -2.584)" x="981" y="32.3">Όριο μετάβασης σε κόκκινη <tspan dx="2.5">περιοχή</tspan></text>
<path d="M941 58H977" stroke="#ed7d31" stroke-width="2" fill="none"/>
<text class="lg" transform="matrix(1 0 0 1.08 0 -5.224)" x="979" y="65.3">Ρυθμός μεταβολής <tspan style="letter-spacing:-0.25px">επιβεβαιωμένων</tspan> κρουσμάτων (7days moving average)</text>
</svg></body></html>
